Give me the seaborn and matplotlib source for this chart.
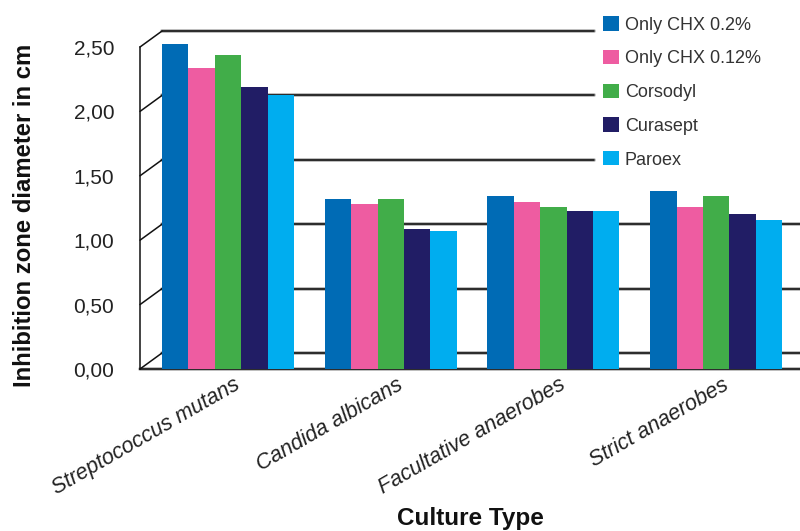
import pandas as pd
import numpy as np
import matplotlib.pyplot as plt
import matplotlib.transforms as mtransforms
import seaborn as sns

# ==========================================
# Data
# ==========================================

cultures = ["Streptococcus mutans", "Candida albicans",
            "Facultative anaerobes", "Strict anaerobes"]
products = ["Only CHX 0.2%", "Only CHX 0.12%", "Corsodyl", "Curasept", "Paroex"]

chx_02 = [2.52, 1.32, 1.34, 1.38]
chx_012 = [2.34, 1.28, 1.30, 1.26]
corsodyl = [2.44, 1.32, 1.26, 1.34]
curasept = [2.19, 1.09, 1.23, 1.20]
paroex = [2.13, 1.07, 1.23, 1.16]

y_ticks = [0.0, 0.5, 1.0, 1.5, 2.0, 2.5]
y_tick_labels = ["0,00", "0,50", "1,00", "1,50", "2,00", "2,50"]

colors = ["#006BB5", "#EE5CA1", "#41AD49", "#211D65", "#00ADEF"]

rows = []
for name, vals in zip(products, [chx_02, chx_012, corsodyl, curasept, paroex]):
    for c, v in zip(cultures, vals):
        rows.append({"Culture Type": c, "Product": name, "Value": v})
df = pd.DataFrame(rows)

# ==========================================
# Figure
# ==========================================

sns.set_style("white")
plt.rcParams["font.family"] = ["Liberation Sans", "DejaVu Sans"]

fig = plt.figure(figsize=(8, 5.31), dpi=100)
ax = fig.add_axes([0.175, 0.3051, 0.825, 0.6573])

sns.barplot(
    data=df,
    x="Culture Type",
    y="Value",
    hue="Product",
    hue_order=products,
    palette=colors,
    width=0.81,
    saturation=1,
    errorbar=None,
    linewidth=0,
    ax=ax,
    zorder=3
)

ax.set_xlim(-0.541, 3.516)
ax.set_ylim(0, 2.71)

# ==========================================
# Pseudo 3D back wall gridlines
# ==========================================

dx = 22 / 660      # axes fraction
dy = 16 / 128.8    # data units
trans = mtransforms.blended_transform_factory(ax.transAxes, ax.transData)
legend_stop = (594 - 140) / 660

for v in y_ticks:
    x_end = legend_stop if v >= 1.5 else 1.0
    ax.plot([0, dx], [v, v + dy], color="#111111", lw=1.1,
            transform=trans, clip_on=False, zorder=1)
    ax.plot([dx, x_end], [v + dy, v + dy], color="#bbbbbb", lw=2.8,
            transform=trans, clip_on=False, zorder=0.5)
    ax.plot([dx, x_end], [v + dy, v + dy], color="#111111", lw=1.2,
            transform=trans, clip_on=False, zorder=1)

# front floor line
ax.plot([0, 1], [0, 0], color="#bbbbbb", lw=2.8, transform=trans,
        clip_on=False, zorder=0.5)

# ==========================================
# Axes styling
# ==========================================

for s in ["top", "right"]:
    ax.spines[s].set_visible(False)
ax.spines["left"].set_bounds(0, 2.5)
ax.spines["left"].set_color("#111111")
ax.spines["bottom"].set_color("#111111")
ax.spines["left"].set_linewidth(1.1)
ax.spines["bottom"].set_linewidth(1.2)

ax.set_yticks(y_ticks)
ax.set_yticklabels(y_tick_labels)
ax.tick_params(axis="y", direction="out", length=6.5, width=1.1,
               color="#111111", pad=12, labelsize=15, labelcolor="#222222")
ax.tick_params(axis="x", length=0, pad=6)

ax.set_xticks(range(len(cultures)))
ax.set_xticklabels(cultures, rotation=30, ha="right", va="top",
                   rotation_mode="anchor", fontsize=15.5, style="italic",
                   color="#222222")
offset = mtransforms.ScaledTranslation(4 / 72, 2 / 72, fig.dpi_scale_trans)
for lab in ax.get_xticklabels():
    lab.set_transform(lab.get_transform() + offset)

ax.set_xlabel("Culture Type", fontsize=17.5, fontweight="bold", color="#111111")
ax.xaxis.set_label_coords(0.5, -0.395)
ax.set_ylabel("Inhibition zone diameter in cm", fontsize=17.2,
              fontweight="bold", color="#111111")
ax.yaxis.set_label_coords(-0.158, 0.44)

# ==========================================
# Legend
# ==========================================

handles, labels = ax.get_legend_handles_labels()
ax.legend(
    handles, labels,
    loc="upper left",
    bbox_to_anchor=(587 / 800, 1),
    bbox_transform=fig.transFigure,
    frameon=False,
    fontsize=13,
    handlelength=0.85,
    handleheight=0.85,
    handletextpad=0.35,
    labelspacing=0.9,
    labelcolor="#333333"
)

plt.savefig("out.png", dpi=100)
